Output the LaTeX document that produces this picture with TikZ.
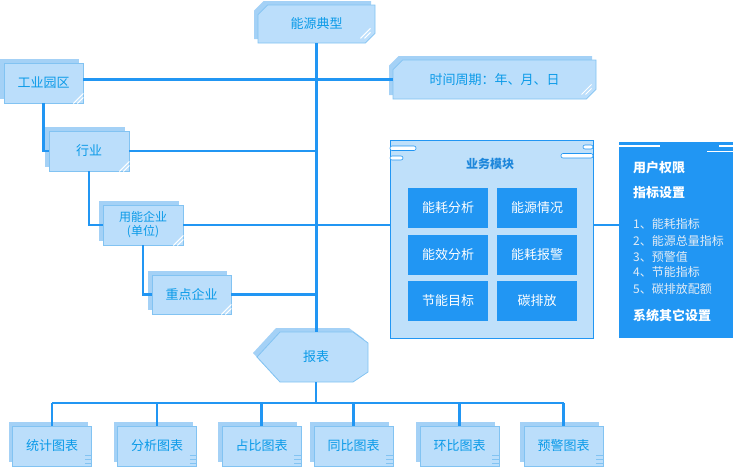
\documentclass[tikz,border=0pt]{standalone}
\usepackage{fontspec}
\setmainfont{Noto Sans CJK SC}
\usepackage{tikz}
\usetikzlibrary{shapes.misc}
\usetikzlibrary{shadows}
\definecolor{lineblue}{HTML}{2196F3}
\definecolor{boxfill}{HTML}{BBDEFB}
\definecolor{boxedge}{HTML}{82C3F2}
\definecolor{boxshade}{HTML}{A4D1F6}
\definecolor{boxtext}{HTML}{0A9AE8}
\definecolor{modfill}{HTML}{BFE0FA}
\definecolor{itemgray}{HTML}{E3ECF5}
\newcommand{\boxfontsize}{\fontsize{13pt}{15pt}\selectfont}
\newcommand{\smallfontsize}{\fontsize{12pt}{14pt}\selectfont}
\tikzstyle{link}=[draw=lineblue, line width=2.2pt]
\tikzstyle{card}=[draw=boxedge, fill=boxfill, line width=0.8pt, inner sep=0, minimum width=80pt, minimum height=40pt,
                  text=boxtext, font=\boxfontsize,
                  % lighter copy behind, up and to the left
                  copy shadow={shadow xshift=-4pt, shadow yshift=4pt, fill=boxshade, draw=none}]
\tikzstyle{tagcard}=[card, chamfered rectangle, chamfered rectangle corners={north west, south east}, chamfered rectangle xsep=6pt]
\tikzstyle{button}=[fill=lineblue, text=white, inner sep=0, minimum width=80pt, minimum height=40pt, font=\boxfontsize]
\tikzstyle{paneltext}=[anchor=west, inner sep=0, text=white, font=\boxfontsize\bfseries]
\tikzstyle{itemtext}=[anchor=west, inner sep=0, text=itemgray, font=\smallfontsize]
\newcommand{\stripecorner}[1]{
  \draw[white, line width=1pt] ([xshift=-10pt]#1.south east) -- ([yshift=10pt]#1.south east);
  \draw[white, line width=1pt] ([xshift=-6pt]#1.south east) -- ([yshift=6pt]#1.south east);}
\newcommand{\tailmark}[1]{
  \foreach \k in {3,7,11} {\draw[boxedge, line width=0.7pt] ([xshift=-7pt, yshift=\k pt]#1.south east) -- ++(7,0);}}

\begin{document}
\begin{tikzpicture}[x=1pt, y=-1pt]
        \useasboundingbox (0,0) rectangle (733,466);
        \node[tagcard, minimum width=117pt, minimum height=38pt] (type)   at (316.5,24)  {能源典型};
        \node[tagcard, minimum width=203pt, minimum height=39pt] (period) at (494.5,79.5) {时间周期：年、月、日};
        \node[card, minimum width=79pt]                            (park)     at (43.5,83)    {工业园区};
        \node[card]                                               (industry) at (89,151)     {行业};
        \node[card, align=center, font=\smallfontsize]            (company)  at (143,225)    {用能企业\\(单位)};
        \node[card, minimum width=79pt, minimum height=39pt]      (keyfirm)  at (191.5,294.5) {重点企业};
        \stripecorner{park}
        \stripecorner{industry}
        \stripecorner{company}
        \stripecorner{keyfirm}
        \stripecorner{type}
        \stripecorner{period}
        % report tag
        \fill[boxshade] (276,328) -- (349,328) -- (364,339) -- (364,368) -- (349,378) -- (276,378) -- (253,353) -- cycle;
        \filldraw[fill=boxfill, draw=boxedge, line width=0.8pt] (280,332) -- (353,332) -- (368,343) -- (368,372) -- (353,382) -- (280,382) -- (257,357) -- cycle;
        \node[inner sep=0, minimum height=50pt, text=boxtext, font=\boxfontsize] (report) at (316,357) {报表};
        \node[card, minimum width=79pt] (chart1) at (52,446)    {统计图表};
        \node[card, minimum width=79pt] (chart2) at (157,446)   {分析图表};
        \node[card, minimum width=79pt] (chart3) at (261.5,446) {占比图表};
        \node[card, minimum width=79pt] (chart4) at (353.5,446) {同比图表};
        \node[card, minimum width=79pt] (chart5) at (459.5,446) {环比图表};
        \node[card, minimum width=79pt] (chart6) at (563.5,446) {预警图表};
        \tailmark{chart1}
        \tailmark{chart2}
        \tailmark{chart3}
        \tailmark{chart4}
        \tailmark{chart5}
        \tailmark{chart6}
        % module box
        \node[draw=lineblue, fill=modfill, line width=0.8pt, inner sep=0, minimum width=203pt, minimum height=198pt] (module) at (491.5,239) {};
        \filldraw[fill=white, draw=lineblue, line width=0.6pt, rounded corners=2pt] (390,146) rectangle (416,150.5);
        \filldraw[fill=white, draw=lineblue, line width=0.6pt, rounded corners=2pt] (390,156) rectangle (403,160);
        \filldraw[fill=white, draw=lineblue, line width=0.6pt, rounded corners=2pt] (583,145) rectangle (593,149);
        \filldraw[fill=white, draw=lineblue, line width=0.6pt, rounded corners=2pt] (561,153.5) rectangle (593,158);
        \node[inner sep=0, text=lineblue!90!black, font=\smallfontsize\bfseries] (moduletitle) at (490,164) {业务模块};
        \node[button] (btn1) at (448,208) {能耗分析};
        \node[button] (btn2) at (537,208) {能源情况};
        \node[button] (btn3) at (448,255) {能效分析};
        \node[button] (btn4) at (537,255) {能耗报警};
        \node[button] (btn5) at (448,301) {节能目标};
        \node[button] (btn6) at (537,301) {碳排放};
        % rights panel
        \node[fill=lineblue, inner sep=0, minimum width=114pt, minimum height=196pt] (rights) at (676,240) {};
        \draw[white, line width=1.6pt] (619,146) -- (660,146);
        \draw[white, line width=1.6pt] (719,146) -- (733,146);
        \draw[white, line width=1.6pt] (707,151.5) -- (733,151.5);
        \node[paneltext] (rights1) at (633,168) {用户权限};
        \node[paneltext] (rights2) at (633,193) {指标设置};
        \node[itemtext]  (item1)   at (633,224) {1、能耗指标};
        \node[itemtext]  (item2)   at (633,241) {2、能源总量指标};
        \node[itemtext]  (item3)   at (633,257) {3、预警值};
        \node[itemtext]  (item4)   at (633,272) {4、节能指标};
        \node[itemtext]  (item5)   at (633,289) {5、碳排放配额};
        \node[paneltext] (rights3) at (633,316) {系统其它设置};
        \coordinate (bus) at (316,403);
        \draw[link] (type.south) -- (type.south |- report.north);
        \draw[link] (park.east |- period.west) -- (period.west);
        \draw[link] (park.south) |- (industry.west);
        \draw[link] (industry.east) -- (industry.east -| type.south);
        \draw[link] (industry.south) |- (company.west);
        \draw[link] (company.east) -- (company.east -| module.west);
        \draw[link] (module.east |- company.east) -- (rights.west |- company.east);
        \draw[link] (company.south) |- (keyfirm.west);
        \draw[link] (keyfirm.east) -- (keyfirm.east -| type.south);
        \draw[link] (report.south) -- (bus);
        \draw[link] (chart1.north |- bus) -- (chart6.north |- bus);
        \draw[link] (chart1.north |- bus) -- (chart1.north);
        \draw[link] (chart2.north |- bus) -- (chart2.north);
        \draw[link] (chart3.north |- bus) -- (chart3.north);
        \draw[link] (chart4.north |- bus) -- (chart4.north);
        \draw[link] (chart5.north |- bus) -- (chart5.north);
        \draw[link] (chart6.north |- bus) -- (chart6.north);
    \end{tikzpicture}
\end{document}
